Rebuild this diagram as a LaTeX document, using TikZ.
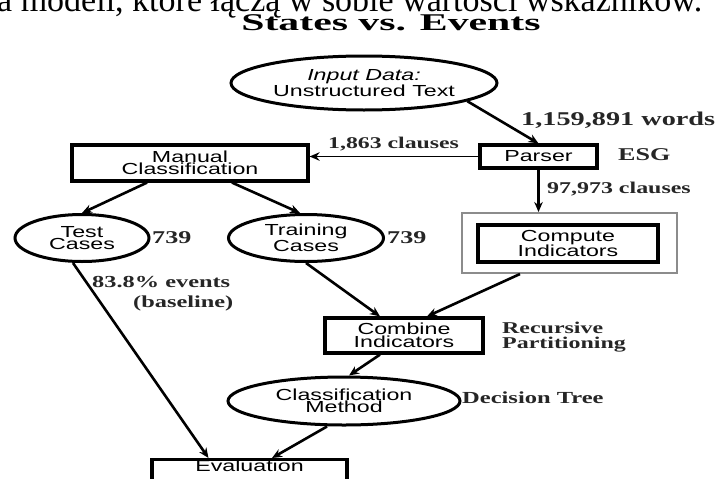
\documentclass[tikz,border=0pt]{standalone}
\usepackage{fontspec}
\setmainfont{Liberation Serif}
\newfontfamily\dsans[FakeStretch=1.45]{Liberation Sans}
\newfontfamily\dserif[FakeStretch=1.45]{Liberation Serif}
\newfontfamily\dtitle[FakeStretch=1.74]{Liberation Serif}
\usetikzlibrary{shapes.geometric,arrows.meta,positioning}
\tikzset{
  sanslbl/.style={font=\dsans\fontsize{16}{12.5}\selectfont, align=center, inner sep=0pt},
  boxnode/.style={draw, line width=3.2pt, rectangle, sanslbl},
  ellnode/.style={draw, line width=3pt, ellipse, sanslbl},
  note/.style={font=\dserif\bfseries\fontsize{16.5}{16.5}\selectfont, inner sep=0pt, anchor=base west, text=black!85},
  conn/.style={line width=2.6pt, -{Stealth[length=10pt,width=8.5pt]}},
}
\begin{document}
\begin{tikzpicture}[x=1pt,y=-1pt]
\useasboundingbox (0,0) rectangle (720,479);
\clip (0,0) rectangle (720,479);
% cut-off running text and title
\node[font=\fontsize{34}{34}\selectfont, inner sep=0pt, anchor=base west] (topline) at (-3,11) {a modeli, które łączą w sobie wartości wskaźników.};
\node[font=\dtitle\bfseries\fontsize{24}{24}\selectfont, inner sep=0pt, anchor=base] (title) at (391,30) {States vs. Events};
% nodes
\node[ellnode, minimum width=266pt, minimum height=54pt, font=\dsans\fontsize{16}{13.5}\selectfont] (inp) at (364,83) {\itshape Input Data:\\Unstructured Text};
\node[boxnode, minimum width=117pt, minimum height=23pt] (parser) at (538.5,156.5) {Parser};
\node[boxnode, minimum width=236pt, minimum height=36pt] (manual) at (190,163) {Manual\\Classification};
\node[draw=black!45, line width=2pt, minimum width=215pt, minimum height=60pt, inner sep=0pt] (compouter) at (569.5,243) {};
\node[boxnode, line width=4pt, minimum width=180pt, minimum height=37pt] (compute) at (568,243.5) {Compute\\Indicators};
\node[ellnode, minimum width=134pt, minimum height=47pt] (test) at (82,238) {Test\\Cases};
\node[ellnode, minimum width=155pt, minimum height=47pt] (training) at (306,238) {Training\\Cases};
\node[boxnode, minimum width=158pt, minimum height=35pt] (combine) at (404,335.5) {Combine\\Indicators};
\node[ellnode, minimum width=232pt, minimum height=48pt] (classm) at (344,401) {Classification\\Method};
\node[boxnode, minimum width=195pt, minimum height=44pt, anchor=north] (eval) at (249.5,458) {};
\node[sanslbl, anchor=base] (evaltext) at (249.5,471) {Evaluation};
% labels
\node[note, font=\dserif\bfseries\fontsize{19.5}{19.5}\selectfont] (lw) at (521,125) {1,159,891 words};
\node[note, font=\dserif\bfseries\fontsize{18}{18}\selectfont] (lesg) at (618,160) {ESG};
\node[note, font=\dserif\bfseries\fontsize{16.4}{16.4}\selectfont] (lc1) at (328,148) {1,863 clauses};
\node[note] (lc2) at (547,193) {97,973 clauses};
\node[note, font=\dserif\bfseries\fontsize{18}{18}\selectfont] (l739a) at (152,243) {739};
\node[note, font=\dserif\bfseries\fontsize{18}{18}\selectfont] (l739b) at (387,243) {739};
\node[note, font=\dserif\bfseries\fontsize{16.8}{16.8}\selectfont] (lev) at (92,287) {83.8\% events};
\node[note, font=\dserif\bfseries\fontsize{16.8}{16.8}\selectfont] (lbase) at (133,307) {(baseline)};
\node[note] (lrec) at (502,333) {Recursive};
\node[note] (lpart) at (502,348) {Partitioning};
\node[note, font=\dserif\bfseries\fontsize{16.9}{16.9}\selectfont] (ldt) at (462,403) {Decision Tree};
% connectors
\draw[conn] (inp.-10) -- (parser.north);
\draw[conn, line width=1.8pt] (parser.west) -- (parser.west -| manual.east);
\draw[conn] (parser.south) -- (parser.south |- compouter.north);
\draw[conn] ([xshift=-43pt]manual.south) -- (test.north);
\draw[conn] ([xshift=42pt]manual.south) -- ([xshift=-6pt]training.north);
\draw[conn] ([xshift=-9pt]test.south) -- ([xshift=-41pt]eval.north);
\draw[conn] (training.south) -- ([xshift=-24pt]combine.north);
\draw[conn] ([xshift=-49.5pt]compouter.south) -- ([xshift=23pt]combine.north);
\draw[conn] ([xshift=-24pt]combine.south) -- ([xshift=5pt]classm.north);
\draw[conn] ([xshift=-17pt]classm.south) -- ([xshift=22.5pt]eval.north);
\end{tikzpicture}
\end{document}
